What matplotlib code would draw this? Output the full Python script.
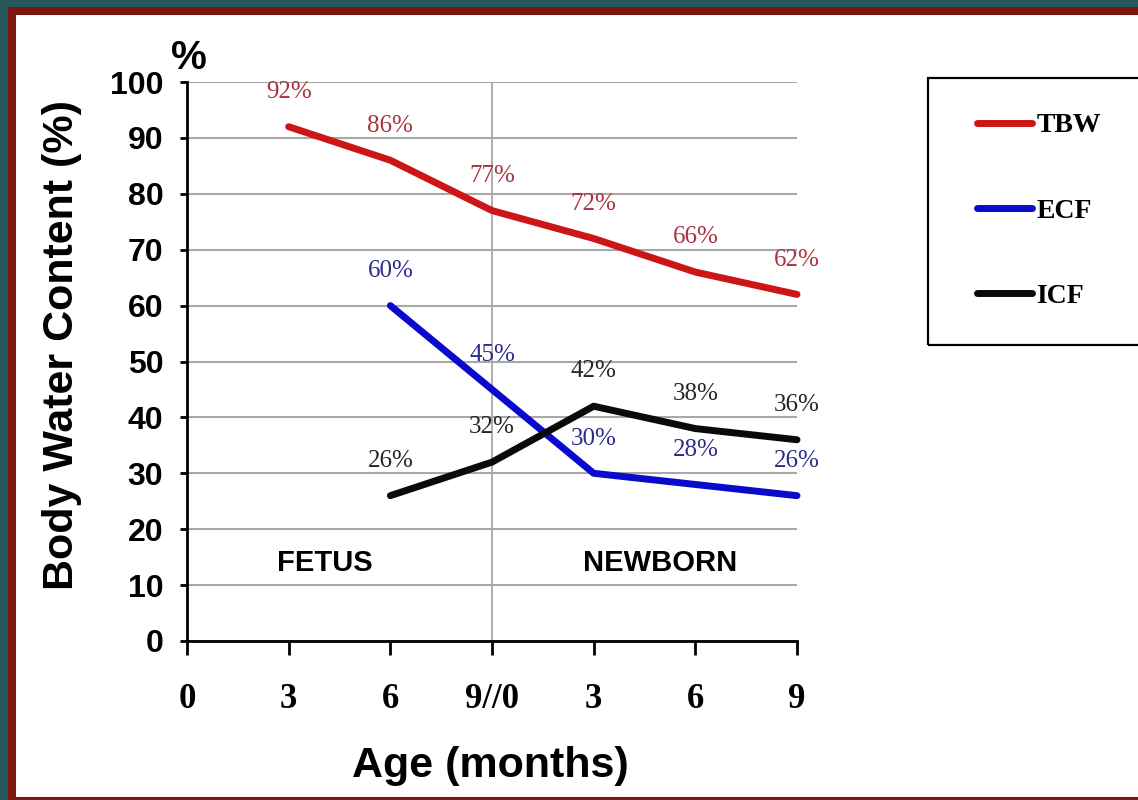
import matplotlib
matplotlib.use('Agg')
import matplotlib.pyplot as plt
from matplotlib.patches import Rectangle

# chart data
age_labels = ['0', '3', '6', '9//0', '3', '6', '9']
tbw_x = [1, 2, 3, 4, 5, 6]
tbw = [92, 86, 77, 72, 66, 62]
ecf_x = [2, 3, 4, 5, 6]
ecf = [60, 45, 30, 28, 26]
icf_x = [2, 3, 4, 5, 6]
icf = [26, 32, 42, 38, 36]
stages = ['FETUS', 'NEWBORN']

W, H = 1138, 800
sans = ['Liberation Sans Narrow', 'Liberation Sans', 'DejaVu Sans']
serif = ['Liberation Serif', 'DejaVu Serif']

fig = plt.figure(figsize=(W / 100, H / 100), dpi=100)
fig.patch.set_facecolor('#25595d')

# white slide with dark red frame
frame = Rectangle((12 / W, -1 / H), 1.2, 1 - 10 / H, transform=fig.transFigure,
                  facecolor='white', edgecolor='#7e1510', linewidth=5.8, zorder=-10)
fig.add_artist(frame)

ax = fig.add_axes([187 / W, 1 - 641 / H, 610 / W, 559 / H])
ax.patch.set_alpha(0)

ax.set_xlim(0, 6)
ax.set_ylim(0, 100)
ax.set_yticks(range(0, 101, 10))
ax.set_xticks(range(len(age_labels)))
ax.set_xticklabels(age_labels, family=serif, fontweight='bold', fontsize=25)
ax.set_yticklabels([str(v) for v in range(0, 101, 10)], family=sans,
                   fontweight='bold', fontsize=23)

ax.yaxis.grid(True, color='#a8a8a8', linewidth=1.5)
ax.axvline(3, color='#a8a8a8', linewidth=1.3, zorder=1)
ax.set_axisbelow(True)

for s in ['top', 'right']:
    ax.spines[s].set_visible(False)
for s in ['left', 'bottom']:
    ax.spines[s].set_linewidth(2)
    ax.spines[s].set_zorder(5)

ax.tick_params(axis='x', direction='out', length=10, width=2, pad=20)
ax.tick_params(axis='y', direction='out', length=5, width=2, pad=12)

l1, = ax.plot(tbw_x, tbw, color='#cc1515', linewidth=5, solid_capstyle='round',
              clip_on=False, zorder=3, label='TBW')
l2, = ax.plot(ecf_x, ecf, color='#0a0acc', linewidth=5, solid_capstyle='round',
              clip_on=False, zorder=3, label='ECF')
l3, = ax.plot(icf_x, icf, color='#0a0a0a', linewidth=5, solid_capstyle='round',
              clip_on=False, zorder=3, label='ICF')

for xs, ys, c in [(tbw_x, tbw, '#a8343f'), (ecf_x, ecf, '#2c2c88'), (icf_x, icf, '#262626')]:
    for x, y in zip(xs, ys):
        ax.annotate(f'{y}%', (x, y), xytext=(0, 25), textcoords='offset points',
                    ha='center', va='center', family=serif, fontsize=18, color=c,
                    annotation_clip=False)

ax.text(1.36, 14, stages[0], ha='center', va='center', family=sans,
        fontweight='bold', fontsize=21)
ax.text(4.65, 14, stages[1], ha='center', va='center', family=sans,
        fontweight='bold', fontsize=21)

fig.text(189 / W, 1 - 58 / H, '%', ha='center', va='center', family=sans,
         fontweight='bold', fontsize=29)
fig.text(62 / W, 1 - 345 / H, 'Body Water Content (%)', rotation=90,
         ha='center', va='center', family=['Liberation Sans', 'DejaVu Sans'],
         fontweight='bold', fontsize=31)
fig.text(490 / W, 1 - 766 / H, 'Age (months)', ha='center', va='center',
         family=['Liberation Sans', 'DejaVu Sans'], fontweight='bold', fontsize=31)

# legend box runs off the right edge of the slide
fig.add_artist(Rectangle((928 / W, 1 - 345 / H), 0.3, 267 / H, transform=fig.transFigure,
                         facecolor='none', edgecolor='black', linewidth=1.6, zorder=4))
leg = ax.legend(handles=[l1, l2, l3], loc='upper left',
                bbox_to_anchor=(963 / W, 1 - 99 / H), bbox_transform=fig.transFigure,
                prop={'family': serif, 'weight': 'bold', 'size': 20},
                handlelength=2.0, handletextpad=0.15, labelspacing=2.15,
                borderpad=0.5, borderaxespad=0, frameon=False)

fig.savefig('out.png', dpi=100, facecolor=fig.get_facecolor())
